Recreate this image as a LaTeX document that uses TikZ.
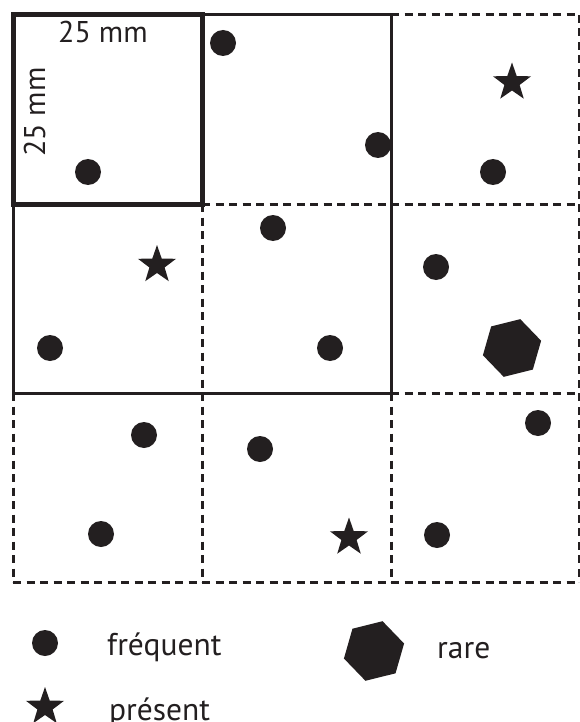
\documentclass[tikz,border=0pt]{standalone}
\usepackage{fontspec}
\setmainfont{PT Sans}
\usetikzlibrary{shapes.geometric}
\definecolor{ink}{RGB}{35,31,32}
\begin{document}
\begin{tikzpicture}[x=1pt,y=-1pt,
  dot/.style={circle,fill=ink,inner sep=0pt,minimum size=26pt},
  starmark/.style={star,star points=5,star point ratio=2.5,fill=ink,inner sep=0pt,minimum size=40pt},
  hexmark/.style={regular polygon,regular polygon sides=6,fill=ink,inner sep=0pt,minimum size=60pt,rotate=14},
  dashline/.style={draw=ink,line width=3pt,dash pattern=on 8pt off 5.5pt},
  solidline/.style={draw=ink,line width=3pt},
  thickline/.style={draw=ink,line width=5pt},
  lbl/.style={font=\fontsize{30}{36}\selectfont,text=ink,inner sep=0pt},
  leg/.style={font=\fontsize{31.5}{38}\selectfont,text=ink,inner sep=0pt}
]
\useasboundingbox (0,0) rectangle (580,722);
% dashed grid
\draw[dashline] (13,204) -- (579,204);
\draw[dashline] (13,582) -- (579,582);
\draw[dashline] (391,393) -- (579,393);
\draw[dashline] (391,15) -- (579,15);
\draw[dashline] (202,204) -- (202,582);
\draw[dashline] (579,15) -- (579,582);
\draw[dashline] (391,393) -- (391,582);
\draw[dashline] (13,393) -- (13,582);
% solid 2x2 square
\draw[solidline] (13,15) rectangle (391,393);
% thick 1x1 square
\draw[thickline] (13,15) rectangle (202,204);
% labels
\node[lbl,anchor=base west] (top25) at (58,43) {25 mm};
\node[lbl,anchor=base west,rotate=90] (side25) at (45,157) {25 mm};
% frequent
\node[dot] (d1) at (223,43) {};
\node[dot] (d2) at (88,172) {};
\node[dot] (d3) at (378,145) {};
\node[dot] (d4) at (493,172) {};
\node[dot] (d5) at (273,228) {};
\node[dot] (d6) at (50,348) {};
\node[dot] (d7) at (330,348) {};
\node[dot] (d8) at (436,267) {};
\node[dot] (d9) at (538,423) {};
\node[dot] (d10) at (437,535) {};
\node[dot] (d11) at (260,449) {};
\node[dot] (d12) at (144,435) {};
\node[dot] (d13) at (101,534) {};
% present
\node[starmark] (s1) at (512,82.5) {};
\node[starmark] (s2) at (157,265) {};
\node[starmark] (s3) at (349,537.5) {};
% rare
\node[hexmark] (h1) at (512,348) {};
% legend
\node[dot] (ldot) at (45,643) {};
\node[leg,anchor=base west] (lfreq) at (107,655) {fréquent};
\node[starmark] (lstar) at (45,707) {};
\node[leg,anchor=base west] (lpres) at (109,720) {présent};
\node[hexmark,minimum size=62pt] (lhex) at (374,651) {};
\node[leg,anchor=base west] (lrare) at (437,658) {rare};
\end{tikzpicture}
\end{document}
